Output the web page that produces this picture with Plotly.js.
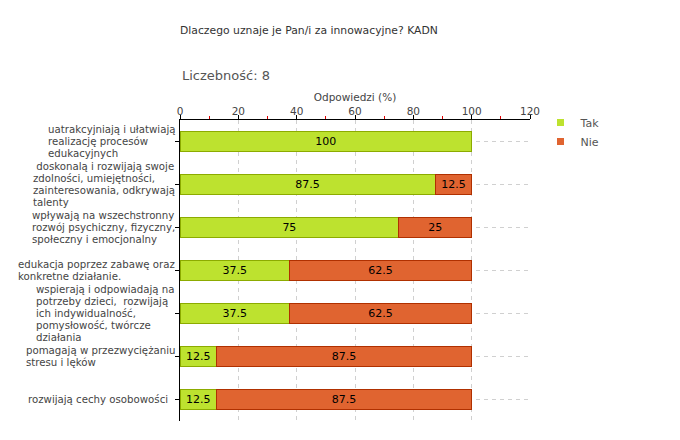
<!DOCTYPE html>
<html><head><meta charset="utf-8">
<script src="https://cdn.plot.ly/plotly-3.0.1.min.js"></script>
<style>html,body{margin:0;padding:0;background:#fff}#chart{width:680px;height:440px}</style>
</head><body><div id="chart"></div>
<script>
const categories = [
  "uatrakcyjniają i ułatwiają<br>realizację procesów<br>edukacyjnych",
  " doskonalą i rozwijają swoje<br>zdolności, umiejętności,<br>zainteresowania, odkrywają<br>talenty",
  "wpływają na wszechstronny<br>rozwój psychiczny, fizyczny,<br>społeczny i emocjonalny",
  "edukacja poprzez zabawę oraz<br>konkretne działanie.",
  "wspierają i odpowiadają na<br>potrzeby dzieci,  rozwijają<br>ich indywidualność,<br>pomysłowość, twórcze<br>działania",
  "pomagają w przezwyciężaniu<br>stresu i lęków",
  "rozwijają cechy osobowości  "
];
const takValues = [100, 87.5, 75, 37.5, 37.5, 12.5, 12.5];
const nieValues = [0, 12.5, 25, 62.5, 62.5, 87.5, 87.5];
const seriesNames = ["Tak", "Nie"];
const xTicks = [0, 20, 40, 60, 80, 100, 120];
const titleText = "Dlaczego uznaje je Pan/i za innowacyjne? KADN";
const countText = "Liczebność: 8";
const axisTitle = "Odpowiedzi (%)";

const FONT = "DejaVu Sans, Verdana, sans-serif";
const LABEL_SIZE = 10.2, LINE_H = 12.1;
const green = "#bde22f", greenLine = "#8cab00";
const orange = "#e06430", orangeLine = "#b03000";

const ids = categories.map((c, i) => "c" + i);

function barTrace(name, vals, fill, line) {
  return {
    type: "bar", orientation: "h", name: name,
    y: ids, x: vals.map(v => v === 0 ? null : v),
    text: vals.map(v => v === 0 ? "" : String(v)),
    textposition: "inside", insidetextanchor: "middle",
    textfont: {family: FONT, size: 11, color: "#000"},
    constraintext: "none",
    marker: {color: fill, line: {color: line, width: 1}},
    showlegend: false, hoverinfo: "skip"
  };
}
const traces = [
  barTrace(seriesNames[0], takValues, green, greenLine),
  barTrace(seriesNames[1], nieValues, orange, orangeLine),
  {type: "scatter", mode: "markers", name: seriesNames[0], x: [null], y: [null],
   marker: {symbol: "square", size: 7, color: green}},
  {type: "scatter", mode: "markers", name: seriesNames[1], x: [null], y: [null],
   marker: {symbol: "square", size: 7, color: orange}}
];

// measure label lines so each multi-line block is left aligned and right-anchored at the axis
const ctx = document.createElement("canvas").getContext("2d");
ctx.font = LABEL_SIZE + "px 'DejaVu Sans'";
const annotations = [];
categories.forEach((c, i) => {
  const lines = c.split("<br>").map(l => l.replace(/ /g, "\u00a0"));
  const maxW = Math.max(...lines.map(l => ctx.measureText(l).width));
  const n = lines.length;
  lines.forEach((ln, j) => {
    annotations.push({
      xref: "paper", yref: "y", x: 0, y: ids[i],
      xshift: -6 - maxW, yshift: ((n - 1) / 2 - j) * LINE_H,
      xanchor: "left", yanchor: "middle", align: "left",
      text: ln, showarrow: false, borderpad: 0,
      font: {family: FONT, size: LABEL_SIZE, color: "#444"}
    });
  });
});
annotations.push({
  xref: "paper", yref: "paper", x: 0, y: 1, xshift: 0, yshift: 45,
  xanchor: "left", yanchor: "middle", text: countText, showarrow: false,
  font: {family: FONT, size: 13, color: "#555"}
});

const layout = {
  width: 680, height: 440,
  margin: {l: 180, r: 150, t: 120, b: 19},
  paper_bgcolor: "#fff", plot_bgcolor: "#fff",
  font: {family: FONT, color: "#444"},
  title: {text: titleText, x: 0, xref: "paper", xanchor: "left", y: 1 - 30/440, yanchor: "middle",
          font: {family: FONT, size: 10.8, color: "#333"}},
  barmode: "stack", bargap: 0.53,
  showlegend: true,
  legend: {x: 1.03, y: 1.04, xanchor: "left", yanchor: "top", bgcolor: "rgba(0,0,0,0)",
           traceorder: "normal",
           font: {family: FONT, size: 11, color: "#555"}, itemwidth: 30, tracegroupgap: 0},
  xaxis: {
    side: "top", range: [0, 120], tickvals: xTicks, ticktext: xTicks.map(String),
    showline: true, linecolor: "#000", linewidth: 1,
    ticks: "outside", ticklen: 4, tickcolor: "#000",
    ticklabelstandoff: -4,
    tickfont: {family: FONT, size: 10.5, color: "#444"},
    showgrid: true, gridcolor: "#d0d0d0", griddash: "4px,4px", gridwidth: 1,
    zeroline: false,
    minor: {dtick: 10, tick0: 0, ticks: "outside", ticklen: 3, tickcolor: "#e00000", showgrid: false},
    title: {text: axisTitle, standoff: 1, font: {family: FONT, size: 10.5, color: "#444"}},
    fixedrange: true
  },
  yaxis: {
    type: "category", autorange: "reversed", categoryorder: "array", categoryarray: ids,
    showticklabels: false, showline: true, linecolor: "#000", linewidth: 1,
    ticks: "outside", ticklen: 4, tickcolor: "#000",
    showgrid: true, gridcolor: "#d0d0d0", griddash: "4px,4px", gridwidth: 1,
    zeroline: false, fixedrange: true
  },
  annotations: annotations
};
Plotly.newPlot("chart", traces, layout, {displayModeBar: false, staticPlot: true});
</script></body></html>
